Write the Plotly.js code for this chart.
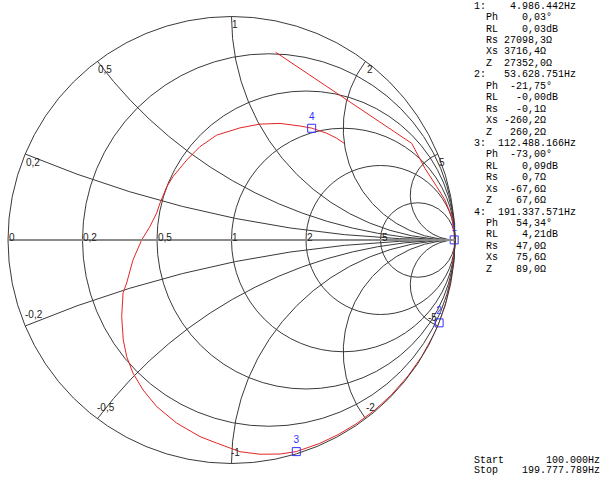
<!DOCTYPE html>
<html><head><meta charset="utf-8">
<script src="https://cdn.plot.ly/plotly-3.0.1.min.js"></script>
<style>html,body{margin:0;padding:0;background:#fff}#chart{width:600px;height:479px}</style>
</head><body><div id="chart"></div>
<script>
// ---- data ----
const Z0 = 50;
const realTicks = [0.2, 0.5, 1, 2, 5];
const imagTicks = [0.2, 0.5, 1, 2, 5, -0.2, -0.5, -1, -2, -5];

// measured reflection coefficient trace: phase (deg) and magnitude |Gamma|
const curvePhase = [76.75, 28.2, 20.3, 14.56, 10.6, 6.04, 1.8, 0.03, -1.7, -8.5, -15.6, -21.75,
  -25.2, -31.6, -37.6, -44.1, -50.0, -55.9, -61.3, -66.65, -73.0, -77.2, -82.4, -87.7, -94.2,
  -99.1, -106.7, -114.2, -120.5, -126.5, -131.9, -137.3, -145.1, -153.97, -157.7, -168.5, 180,
  170.7, 160.1, 152.6, 140.6, 132.7, 119.25, 108.65, 98.0, 85.7, 76.2, 67.4, 59.0, 54.34,
  48.3, 44.0, 40.7];
const curveMag = [0.863, 0.915, 0.923, 0.949, 0.972, 0.991, 0.997, 0.9964, 0.998, 0.999, 0.9995, 1.0,
  0.999, 0.998, 0.997, 0.996, 0.995, 0.994, 0.993, 0.992, 0.990, 0.982, 0.967, 0.948, 0.911,
  0.891, 0.855, 0.817, 0.779, 0.741, 0.702, 0.659, 0.599, 0.540, 0.507, 0.450, 0.402,
  0.370, 0.356, 0.360, 0.375, 0.386, 0.410, 0.441, 0.474, 0.503, 0.534, 0.565, 0.595, 0.616,
  0.640, 0.655, 0.664];

// markers
const markerNames = ['1', '2', '3', '4'];
const markerFreq = ['4.986.442', '53.628.751', '112.488.166', '191.337.571'];
const markerPh = [0.03, -21.75, -73.00, 54.34];
const markerRL = [0.03, -0.00, 0.09, 4.21];
const markerRs = [27098.3, -0.1, 0.7, 47.0];
const markerXs = [3716.4, -260.2, -67.6, 75.6];
const markerZ = [27352.0, 260.2, 67.6, 89.0];
const sweepStart = '100.000Hz';
const sweepStop = '199.777.789Hz';

// ---- helpers ----
function gammaToZ(mag, deg) {
  const t = deg * Math.PI / 180;
  const gr = mag * Math.cos(t), gi = mag * Math.sin(t);
  const ar = 1 + gr, ai = gi, br = 1 - gr, bi = -gi;
  const d = br * br + bi * bi;
  return [(ar * br + ai * bi) / d, (ai * br - ar * bi) / d];
}
const curveRe = [], curveIm = [];
curvePhase.forEach((p, i) => { const z = gammaToZ(curveMag[i], p); curveRe.push(z[0]); curveIm.push(z[1]); });

const W = 600, H = 479, CX = 231.5, CY = 240, R = 223.5;
const px = g => (CX + R * g) / W;
const py = g => 1 - (CY - R * g) / H;
const fmt = (v, d) => { let s = Math.abs(v).toFixed(d).replace('.', ','); return ((v < 0 || Object.is(v, -0)) ? '-' : '') + s; };
const lbl = v => String(v).replace('.', ',');

const annotations = [];
const chartFont = {family: 'Liberation Sans, Arial, sans-serif', size: 10, color: '#222'};
// real axis labels
[0].concat(realTicks).forEach(r => {
  const g = (r - 1) / (r + 1);
  annotations.push({xref: 'paper', yref: 'paper', x: px(g), y: 1 - 237.5 / H, xanchor: 'left', yanchor: 'middle',
    text: lbl(r), showarrow: false, font: chartFont, borderpad: 0});
});
// imaginary labels at the rim
imagTicks.forEach(x => {
  const gr = (x * x - 1) / (x * x + 1), gi = 2 * x / (x * x + 1);
  const pos = x > 0;
  const crowded = x === -5; // sits under marker 2's label; nudge left
  annotations.push({xref: 'paper', yref: 'paper', x: px(gr), y: py(gi), xanchor: 'left',
    yanchor: pos ? 'top' : 'bottom', xshift: pos ? 0 : (crowded ? -11 : -1), yshift: pos ? -2 : (crowded ? 2 : 5),
    text: lbl(x), showarrow: false, font: chartFont, borderpad: 0});
});

// right text panel
const nb = s => s.replace(/ /g, '\u00A0');
const lines = [];
markerNames.forEach((n, i) => {
  lines.push((n + ':') + (markerFreq[i] + 'Hz').padStart(15));
  lines.push('  Ph ' + fmt(markerPh[i], 2).padStart(7) + '°');
  lines.push('  RL ' + fmt(markerRL[i], 2).padStart(7) + 'dB');
  lines.push('  Rs ' + fmt(markerRs[i], 1).padStart(6) + 'Ω');
  lines.push('  Xs ' + fmt(markerXs[i], 1).padStart(6) + 'Ω');
  lines.push('  Z  ' + fmt(markerZ[i], 1).padStart(6) + 'Ω');
});
const monoFont = {family: 'Liberation Mono, Courier New, monospace', size: 10, color: '#000'};
lines.forEach((t, i) => {
  annotations.push({xref: 'paper', yref: 'paper', x: 473 / W, y: 1 - (6.2 + 11.44 * i) / H,
    xanchor: 'left', yanchor: 'middle', text: nb(t), showarrow: false, font: monoFont, borderpad: 0});
});
[['Start', sweepStart, 460], ['Stop', sweepStop, 470.7]].forEach(([a, b, y]) => {
  annotations.push({xref: 'paper', yref: 'paper', x: 473 / W, y: 1 - y / H, xanchor: 'left', yanchor: 'middle',
    text: nb(a.padEnd(6) + b.padStart(15)), showarrow: false, font: monoFont, borderpad: 0});
});

const traces = [
  {type: 'scattersmith', real: curveRe, imag: curveIm, mode: 'lines',
   line: {color: '#e32626', width: 1}, cliponaxis: false, hoverinfo: 'skip', showlegend: false},
  {type: 'scattersmith', real: markerRs.map(v => v / Z0), imag: markerXs.map(v => v / Z0),
   mode: 'markers+text', text: markerNames, textposition: 'top center',
   textfont: {family: 'Liberation Sans, Arial, sans-serif', size: 10, color: '#3333ff'},
   marker: {symbol: 'square-open', size: 8, color: '#3333ff', line: {width: 1, color: '#3333ff'}},
   cliponaxis: false, hoverinfo: 'skip', showlegend: false}
];

const layout = {
  width: W, height: H, margin: {l: 0, r: 0, t: 0, b: 0},
  paper_bgcolor: '#fff', showlegend: false,
  smith: {
    domain: {x: [(CX - R) / W, (CX + R) / W], y: [1 - (CY + R) / H, 1 - (CY - R) / H]},
    bgcolor: '#fff',
    realaxis: {tickvals: realTicks, showticklabels: false, ticks: '', gridcolor: '#3a3a3a', gridwidth: 1,
      linecolor: '#8c8c8c', linewidth: 2, showline: true},
    imaginaryaxis: {tickvals: imagTicks, showticklabels: false, ticks: '', gridcolor: '#3a3a3a', gridwidth: 1,
      linecolor: '#3a3a3a', linewidth: 1, showline: true}
  },
  annotations: annotations
};
Plotly.newPlot('chart', traces, layout, {staticPlot: true, displayModeBar: false});
</script></body></html>
